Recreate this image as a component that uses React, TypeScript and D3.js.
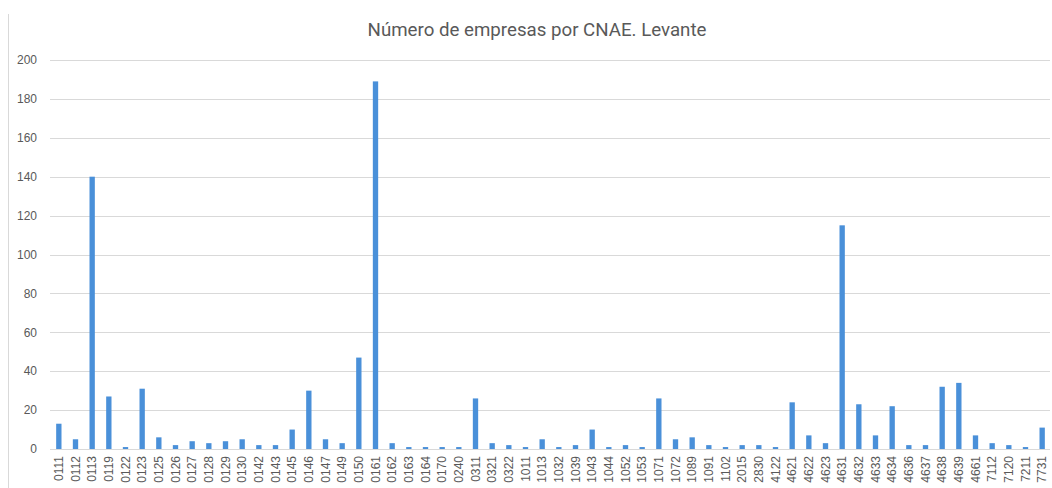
import React, { useEffect, useRef } from 'react';
import * as d3 from 'd3';

const categories = [
  '0111', '0112', '0113', '0119', '0122', '0123', '0125', '0126', '0127', '0128',
  '0129', '0130', '0142', '0143', '0145', '0146', '0147', '0149', '0150', '0161',
  '0162', '0163', '0164', '0170', '0240', '0311', '0321', '0322', '1011', '1013',
  '1032', '1039', '1043', '1044', '1052', '1053', '1071', '1072', '1089', '1091',
  '1102', '2015', '2830', '4122', '4621', '4622', '4623', '4631', '4632', '4633',
  '4634', '4636', '4637', '4638', '4639', '4661', '7112', '7120', '7211', '7731',
];

const values = [
  13, 5, 140, 27, 1, 31, 6, 2, 4, 3,
  4, 5, 2, 2, 10, 30, 5, 3, 47, 189,
  3, 1, 1, 1, 1, 26, 3, 2, 1, 5,
  1, 2, 10, 1, 2, 1, 26, 5, 6, 2,
  1, 2, 2, 1, 24, 7, 3, 115, 23, 7,
  22, 2, 2, 32, 34, 7, 3, 2, 1, 11,
];

const yTicks = [0, 20, 40, 60, 80, 100, 120, 140, 160, 180, 200];

const title = 'Número de empresas por CNAE. Levante';

const W = 1052;
const H = 488;

const App = () => {
  const ref = useRef<SVGSVGElement | null>(null);

  useEffect(() => {
    const svg = d3.select(ref.current);
    svg.selectAll('*').remove();

    const margin = { top: 60, right: 2, bottom: 39, left: 50 };
    const plotW = W - margin.left - margin.right;
    const plotH = H - margin.top - margin.bottom;

    // chart area border on the left
    svg.append('line')
      .attr('x1', 8.5).attr('x2', 8.5)
      .attr('y1', 14).attr('y2', H)
      .attr('stroke', '#d9d9d9');

    svg.append('text')
      .attr('x', 537)
      .attr('y', 36)
      .attr('text-anchor', 'middle')
      .attr('font-family', 'Roboto, sans-serif')
      .attr('font-size', 18.7)
      .attr('fill', '#595959')
      .text(title);

    const g = svg.append('g')
      .attr('transform', `translate(${margin.left},${margin.top})`);

    const x = d3.scaleBand()
      .domain(categories)
      .range([0, plotW])
      .paddingInner(0.68)
      .paddingOuter(0.34);

    const y = d3.scaleLinear()
      .domain([0, 200])
      .range([plotH, 0]);

    // gridlines
    g.selectAll('line.grid')
      .data(yTicks)
      .enter()
      .append('line')
      .attr('class', 'grid')
      .attr('x1', 0)
      .attr('x2', plotW)
      .attr('y1', d => Math.round(y(d)) + 0.5)
      .attr('y2', d => Math.round(y(d)) + 0.5)
      .attr('stroke', '#d9d9d9');

    // y labels
    g.selectAll('text.ytick')
      .data(yTicks)
      .enter()
      .append('text')
      .attr('class', 'ytick')
      .attr('x', -13)
      .attr('y', d => y(d))
      .attr('dy', '0.35em')
      .attr('text-anchor', 'end')
      .attr('font-family', 'Liberation Sans, Arial, sans-serif')
      .attr('font-size', 12)
      .attr('fill', '#595959')
      .text(d => d);

    // bars
    g.selectAll('rect.bar')
      .data(values)
      .enter()
      .append('rect')
      .attr('class', 'bar')
      .attr('x', (d, i) => (x(categories[i]) as number) + 0.5)
      .attr('y', d => y(d))
      .attr('width', x.bandwidth())
      .attr('height', d => plotH - y(d))
      .attr('fill', '#4a90d9');

    // x labels
    g.selectAll('text.xtick')
      .data(categories)
      .enter()
      .append('text')
      .attr('class', 'xtick')
      .attr('transform', d => `translate(${(x(d) as number) + x.bandwidth() / 2 + 0.5},${plotH + 7}) rotate(-90)`)
      .attr('dy', '0.35em')
      .attr('text-anchor', 'end')
      .attr('font-family', 'Liberation Sans, Arial, sans-serif')
      .attr('font-size', 12)
      .attr('fill', '#595959')
      .text(d => d);
  }, []);

  return (
    <svg
      ref={ref}
      width={W}
      height={H}
      style={{ position: 'absolute', left: 0, top: 0, background: '#fff' }}
    />
  );
};

export default App;
